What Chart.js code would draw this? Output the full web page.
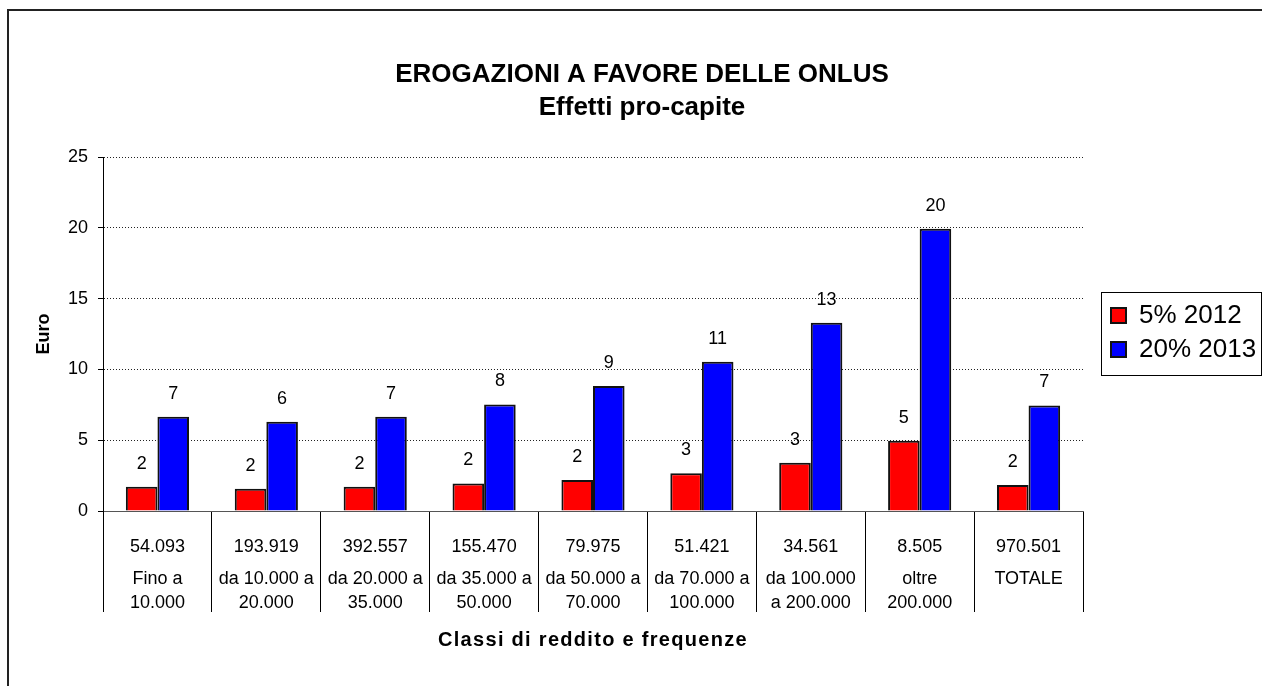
<!DOCTYPE html>
<html>
<head>
<meta charset="utf-8">
<script src="https://cdn.jsdelivr.net/npm/chart.js@4.4.1/dist/chart.umd.min.js"></script>
<style>
  html, body { margin: 0; padding: 0; background: #fff; overflow: hidden; }
  #frame {
    position: absolute; left: 7px; top: 9px;
    width: 1300px; height: 720px;
    border: 2px solid #222;
  }
  #myChart { position: absolute; left: 0; top: 0; }
</style>
</head>
<body>
<div id="frame">
  <canvas id="myChart" width="1266" height="675"></canvas>
</div>
<script>
  // fasce di reddito (due righe ciascuna) e numero di contribuenti
  const classLabels = [
    ['Fino a', '10.000'],
    ['da 10.000 a', '20.000'],
    ['da 20.000 a', '35.000'],
    ['da 35.000 a', '50.000'],
    ['da 50.000 a', '70.000'],
    ['da 70.000 a', '100.000'],
    ['da 100.000', 'a 200.000'],
    ['oltre', '200.000'],
    ['TOTALE']
  ];
  const frequencies = ['54.093', '193.919', '392.557', '155.470', '79.975', '51.421', '34.561', '8.505', '970.501'];

  // euro pro-capite
  const values2012 = [1.72, 1.58, 1.72, 1.95, 2.19, 2.66, 3.41, 4.97, 1.84];
  const values2013 = [6.66, 6.31, 6.66, 7.52, 8.83, 10.55, 13.30, 19.94, 7.46];

  const yTicks = [0, 5, 10, 15, 20, 25];

  const xTitle = 'Classi di reddito e frequenze';

  const FONT = "'Liberation Sans', Arial, sans-serif";

  // valori arrotondati sopra le barre
  const barValues = {
    id: 'barValues',
    afterDatasetsDraw(chart) {
      const ctx = chart.ctx;
      ctx.save();
      ctx.font = '18px ' + FONT;
      ctx.fillStyle = '#000';
      ctx.textAlign = 'center';
      ctx.textBaseline = 'middle';
      chart.data.datasets.forEach((ds, i) => {
        chart.getDatasetMeta(i).data.forEach((bar, j) => {
          ctx.fillText(Math.round(ds.data[j]), bar.x, bar.y - 23);
        });
      });
      ctx.restore();
    }
  };

  // tabella sotto l'asse: frequenze + classi, poi il titolo dell'asse (spaziato)
  const classTable = {
    id: 'classTable',
    afterDraw(chart) {
      const ctx = chart.ctx;
      const xs = chart.scales.x;
      const base = chart.chartArea.bottom;
      ctx.save();
      ctx.font = '18px ' + FONT;
      ctx.fillStyle = '#000';
      ctx.textAlign = 'center';
      ctx.textBaseline = 'middle';
      classLabels.forEach((lines, i) => {
        const x = xs.getPixelForValue(i);
        ctx.fillText(frequencies[i], x, base + 36);
        lines.forEach((t, k) => ctx.fillText(t, x, base + 68 + k * 24));
      });
      ctx.font = 'bold 20px ' + FONT;
      ctx.letterSpacing = '1.3px';
      ctx.fillText(xTitle, (xs.left + xs.right) / 2, base + 129);
      ctx.restore();
    }
  };

  // legenda spostata a destra del grafico e con il riquadro
  const legendBox = {
    id: 'legendBox',
    beforeInit(chart) {
      const fit = chart.legend.fit;
      chart.legend.fit = function () {
        fit.bind(chart.legend)();
        this.width = 192;
      };
    },
    afterLayout(chart) {
      const lg = chart.legend;
      const h = lg.bottom - lg.top;
      lg.left += 20;
      lg.right += 20;
      lg.top = 283.5;
      lg.bottom = lg.top + h;
    },
    afterDraw(chart) {
      const lg = chart.legend;
      const ctx = chart.ctx;
      ctx.save();
      ctx.strokeStyle = '#000';
      ctx.lineWidth = 1;
      ctx.strokeRect(lg.left - 1.5, lg.top - 2, 160, 83);
      ctx.restore();
    }
  };

  const data = {
    labels: frequencies,
    datasets: [{
      label: '5% 2012',
      data: values2012,
      backgroundColor: '#ff0000',
      borderColor: '#111',
      borderWidth: 2
    }, {
      label: '20% 2013',
      data: values2013,
      backgroundColor: '#0000ff',
      borderColor: '#111',
      borderWidth: 2
    }]
  };

  const options = {
    responsive: false,
    animation: false,
    layout: { padding: { left: 0, right: 0, top: 0, bottom: 74 } },
    datasets: { bar: { categoryPercentage: 0.58, barPercentage: 1.0 } },
    plugins: {
      title: {
        display: true,
        text: ['EROGAZIONI A FAVORE DELLE ONLUS', 'Effetti pro-capite'],
        color: '#000',
        font: { family: FONT, size: 26, weight: 'bold', lineHeight: 1.27 },
        padding: { top: 47.5, bottom: 32.5 }
      },
      legend: {
        position: 'right',
        align: 'start',
        labels: {
          color: '#000',
          font: { family: FONT, size: 26 },
          boxWidth: 15,
          boxHeight: 15,
          padding: 8
        }
      },
      tooltip: { enabled: false }
    },
    scales: {
      x: {
        grid: {
          offset: true,
          drawOnChartArea: false,
          drawTicks: true,
          tickLength: 101,
          color: '#000',
          lineWidth: 1
        },
        border: { display: true, color: '#555', width: 1 },
        ticks: { display: false },
        title: { display: false }
      },
      y: {
        min: 0,
        max: 25,
        afterFit(scale) { scale.width = 94; },
        afterBuildTicks(scale) { scale.ticks = yTicks.map(v => ({ value: v })); },
        grid: {
          color: '#222',
          lineWidth: 1,
          tickLength: 5,
          tickColor: '#000',
          tickBorderDash: []
        },
        // in v4 il tratteggio delle griglie sta in border.dash
        border: { display: true, color: '#000', width: 1, dash: [1, 2] },
        ticks: {
          color: '#000',
          font: { family: FONT, size: 18 },
          padding: 10
        },
        title: {
          display: true,
          text: 'Euro',
          color: '#000',
          font: { family: FONT, size: 18, weight: 'bold' },
          padding: { top: 24, bottom: 0 }
        }
      }
    }
  };

  const config = {
    type: 'bar',
    data: data,
    options: options,
    plugins: [barValues, classTable, legendBox]
  };

  const myChart = new Chart(document.getElementById('myChart'), config);
</script>
</body>
</html>
